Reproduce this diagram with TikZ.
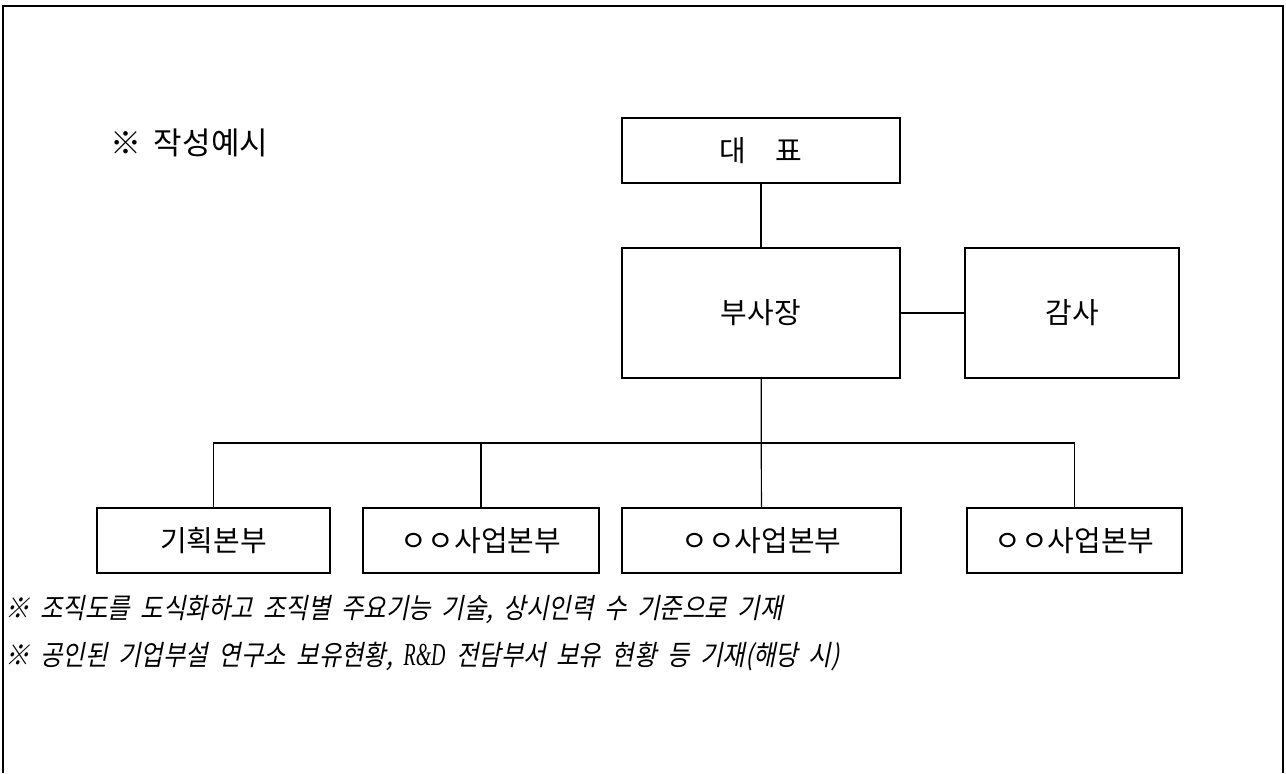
\documentclass[tikz,border=0pt]{standalone}
\usepackage{fontspec}
\setmainfont{Noto Sans CJK KR}
\newfontfamily\notefont[FakeSlant=0.2,FakeStretch=0.87]{Noto Sans CJK KR}
\newfontfamily\latinnote[FakeStretch=0.62]{Liberation Serif}
\newcommand\notegap{\spaceskip=0.38em plus 0.1em\relax}
\usepackage{tikz}

\begin{document}
\begin{tikzpicture}[
            x = 0.5pt, y = -0.5pt, % one unit = one pixel of the page
            line width = 0.6pt, % line style
            font = \fontsize{14.5}{17}\selectfont,
            orgbox/.style = {shape=rectangle, draw=black, inner sep=0pt},
            note/.style = {anchor=west, inner sep=0pt,
                font=\notefont\fontsize{14}{17}\selectfont}
        ]
\useasboundingbox (0,0) rectangle (1286,773);

% frame, open at the bottom
\draw[line width=0.8pt] (3,773) -- (3,6) -- (1283,6) -- (1283,773);

\node[anchor=west, inner sep=0pt, font=\fontsize{15.5}{18}\selectfont] (ex) at (110,143) {※\hspace{0.4em}작성예시};

\node[orgbox, minimum width=139pt, minimum height=32.5pt] (CEO) at (761,150.5) {대\quad 표};
\node[orgbox, minimum width=139pt, minimum height=65pt] (VP) at (761,313) {부사장};
\node[orgbox, minimum width=107pt, minimum height=65pt] (AUD) at (1072,313) {감사};

\node[orgbox, minimum width=116.5pt, minimum height=32.5pt] (D1) at (213.5,540.5) {기획본부};
\node[orgbox, minimum width=118pt, minimum height=32.5pt] (D2) at (481,540.5) {ㅇㅇ사업본부};
\node[orgbox, minimum width=139.5pt, minimum height=32.5pt] (D3) at (761.5,540.5) {ㅇㅇ사업본부};
\node[orgbox, minimum width=107.5pt, minimum height=32.5pt] (D4) at (1074.5,540.5) {ㅇㅇ사업본부};

\coordinate (bus) at (761,443);

 \path (CEO) edge (VP);
 \path (VP) edge (AUD);
 \path (VP) edge (D3);
 \draw (D1.north) |- (bus);
 \draw (D4.north) |- (bus);
 \draw (D2.north) -- (D2.north |- bus);

\node[note] (n1) at (5,610) {\notegap ※ 조직도를 도식화하고 조직별 주요기능 기술, 상시인력 수 기준으로 기재};
\node[note] (n2) at (5,657) {\notegap ※ 공인된 기업부설 연구소 보유현황, {\latinnote\itshape\fontsize{16}{17}\selectfont R\&D} 전담부서 보유 현황 등 기재(해당 시)};
\end{tikzpicture}
\end{document}
